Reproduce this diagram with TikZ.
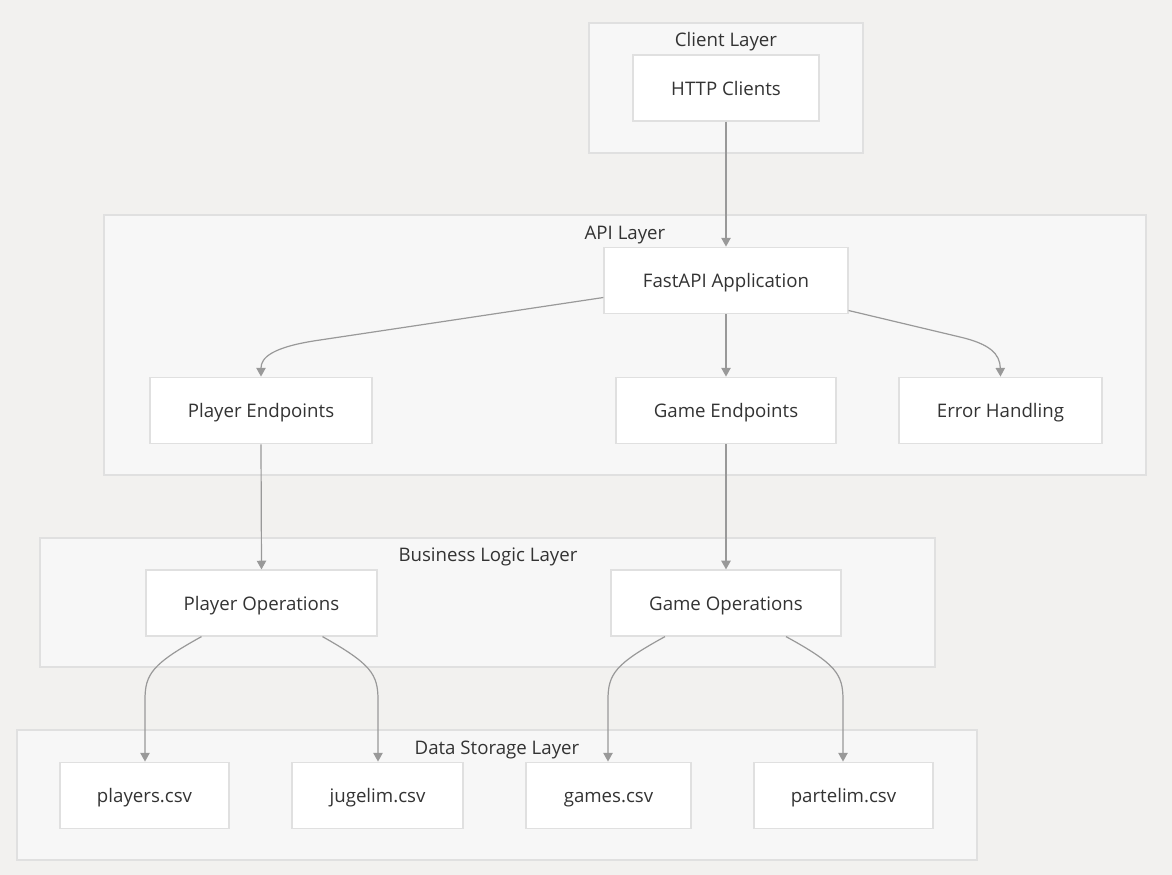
\documentclass[tikz,border=0pt]{standalone}
\usepackage{fontspec}
\setmainfont{Open Sans}
\usetikzlibrary{arrows.meta,calc}
\definecolor{bgc}{HTML}{F2F1EF}
\definecolor{clfill}{HTML}{F7F7F7}
\definecolor{clborder}{HTML}{E0E0E0}
\definecolor{nodeborder}{HTML}{E0E0E0}
\definecolor{edgec}{HTML}{999999}
\definecolor{txt}{HTML}{333333}
\tikzset{
  cluster/.style={draw=clborder, fill=clfill, line width=0.9pt},
  cltitle/.style={text=txt, font=\fontsize{14}{16}\selectfont, inner sep=0pt, text height=12pt, text depth=1pt},
  box/.style={draw=nodeborder, fill=white, line width=0.9pt, text=txt,
    font=\fontsize{14}{16}\selectfont, minimum height=50pt, inner sep=0pt, text height=12pt, text depth=1pt},
  edge/.style={draw=edgec, line width=0.9pt, -{Triangle[width=7pt,length=6.5pt]}}
}
\begin{document}
\begin{tikzpicture}[x=0.75pt,y=-0.75pt]
\fill[bgc] (0,0) rectangle (1172,875);
\useasboundingbox (0,0) rectangle (1172,875);
% clusters
\draw[cluster] (589,23) rectangle (863,153);
\node[cltitle] (tclient) at (726,39) {Client Layer};
\draw[cluster] (104,215) rectangle (1146,475);
\node[cltitle] (tapi) at (625,232) {API Layer};
\draw[cluster] (40,538) rectangle (935,667);
\node[cltitle] (tbiz) at (488,554) {Business Logic Layer};
\draw[cluster] (17,730) rectangle (977,860);
\node[cltitle] (tdata) at (497,747) {Data Storage Layer};
% nodes
\node[box, minimum width=139.5pt, minimum height=49.5pt] (http) at (726,88) {HTTP Clients};
\node[box, minimum width=183pt] (fast) at (726,280.5) {FastAPI Application};
\node[box, minimum width=166.5pt] (pe) at (261,410.5) {Player Endpoints};
\node[box, minimum width=165pt] (ge) at (726,410.5) {Game Endpoints};
\node[box, minimum width=152.25pt] (eh) at (1000.5,410.5) {Error Handling};
\node[box, minimum width=173.25pt, minimum height=49.5pt] (po) at (261.5,603) {Player Operations};
\node[box, minimum width=172.5pt, minimum height=49.5pt] (go) at (726,603) {Game Operations};
\node[box, minimum width=126.75pt] (pcsv) at (144.5,795.5) {players.csv};
\node[box, minimum width=128.25pt] (jcsv) at (377.5,795.5) {jugelim.csv};
\node[box, minimum width=123.75pt] (gcsv) at (608.5,795.5) {games.csv};
\node[box, minimum width=134.25pt] (ptcsv) at (843.5,795.5) {partelim.csv};
% edges
\draw[edge] (http.south) -- (fast.north);
\draw[edge] ($(fast.west)+(0,17)$) -- (320,340) .. controls (271,347) and (261,358) .. (pe.north);
\draw[edge] (fast.south) -- (ge.north);
\draw[edge] ($(fast.east)+(0,30)$) -- (960,337) .. controls (990,344) and (1000,354) .. (eh.north);
\draw[edge] (pe.south) -- (po.north);
\draw[edge] (ge.south) -- (go.north);
\draw[edge] ($(po.south)+(-60,0)$) .. controls (152,664) and (145,674) .. (145,700) -- (pcsv.north -| 145,0);
\draw[edge] ($(po.south)+(61,0)$) .. controls (371,664) and (378,674) .. (378,700) -- (jcsv.north -| 378,0);
\draw[edge] ($(go.south)+(-61,0)$) .. controls (615,664) and (608,674) .. (608,700) -- (gcsv.north -| 608,0);
\draw[edge] ($(go.south)+(60,0)$) .. controls (836,664) and (843,674) .. (843,700) -- (ptcsv.north -| 843,0);
\end{tikzpicture}
\end{document}
